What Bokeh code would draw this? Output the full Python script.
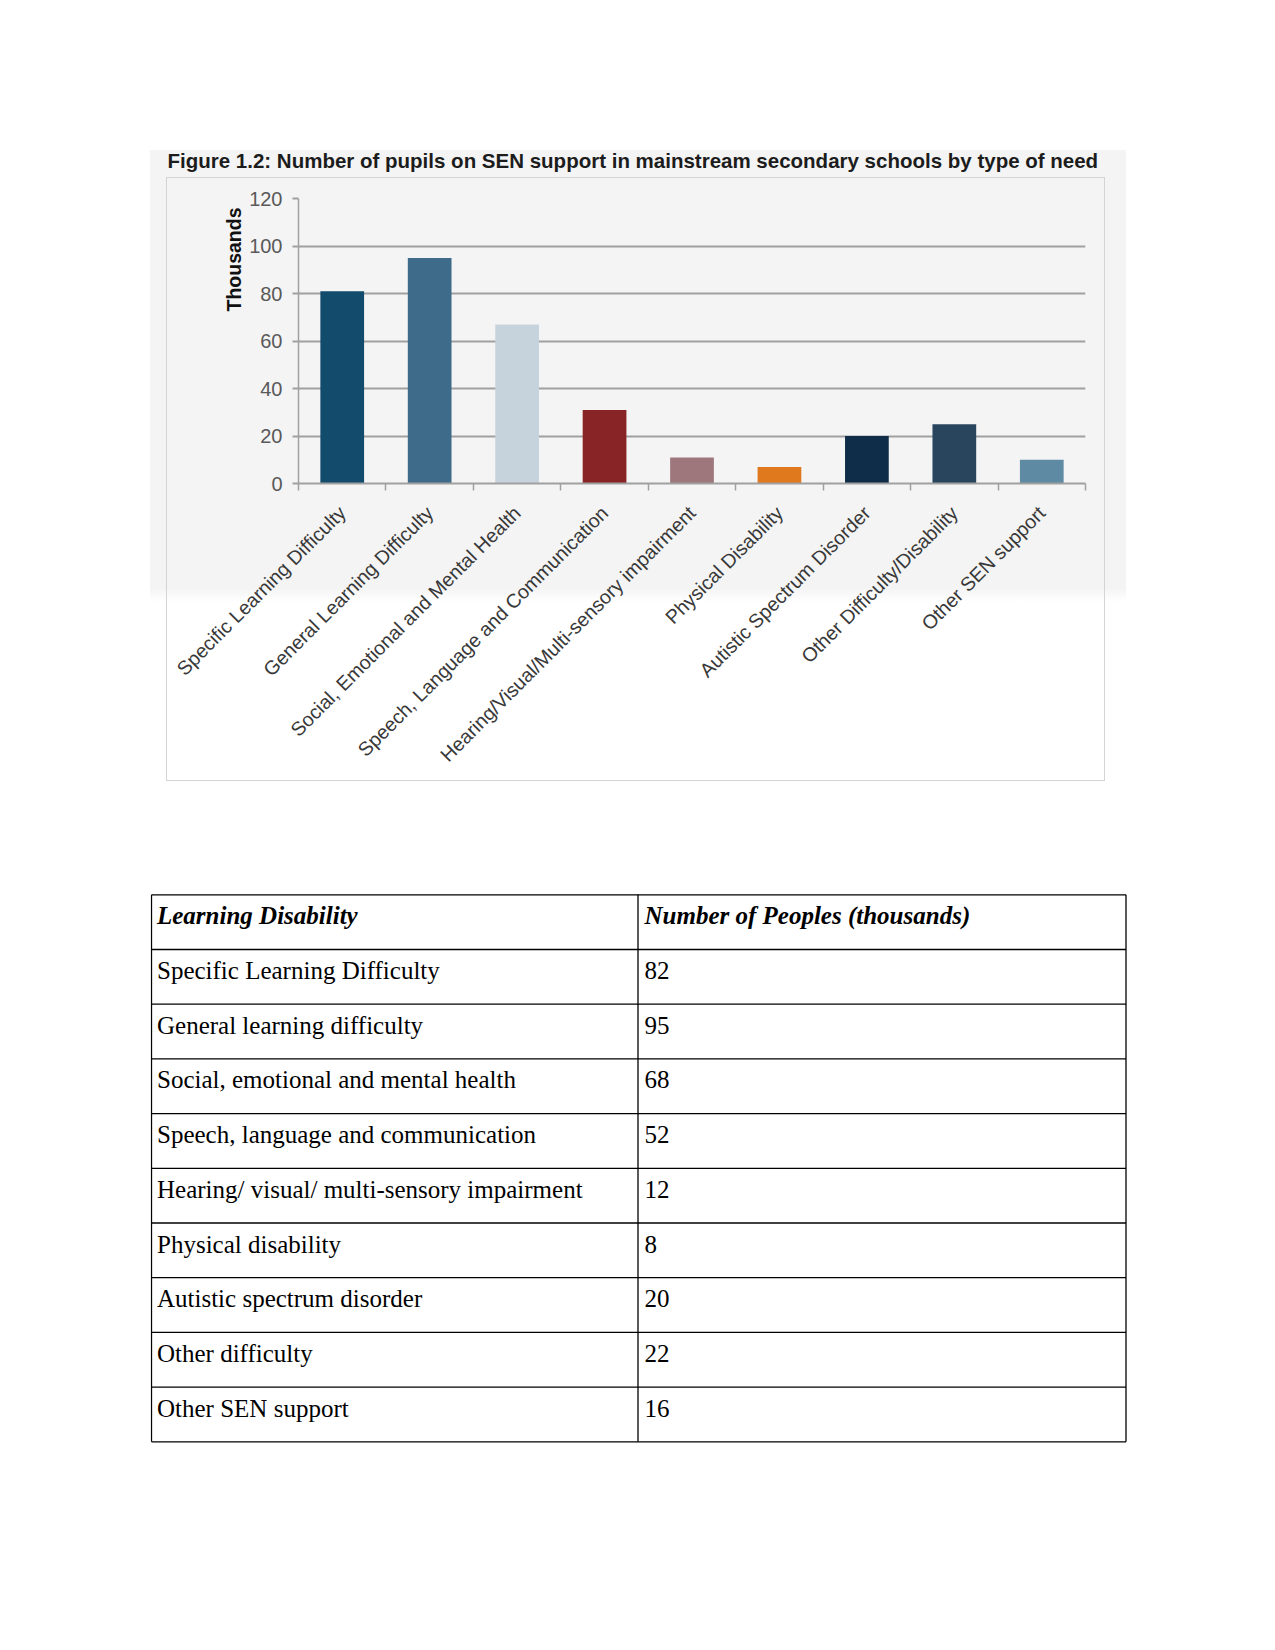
import math
from bokeh.plotting import figure
from bokeh.models import Range1d, FixedTicker, Title, Spacer, ColumnDataSource
from bokeh.layouts import column, row
from bokeh.embed import file_html
from bokeh.resources import INLINE
from bokeh.core.properties import value

# ---------------- data ----------------
title_text = "Figure 1.2: Number of pupils on SEN support in mainstream secondary schools by type of need"
y_axis_title = "Thousands"
categories = [
    "Specific Learning Difficulty",
    "General Learning Difficulty",
    "Social, Emotional and Mental Health",
    "Speech, Language and Communication",
    "Hearing/Visual/Multi-sensory impairment",
    "Physical Disability",
    "Autistic Spectrum Disorder",
    "Other Difficulty/Disability",
    "Other SEN support",
]
pupils_thousands = [81, 95, 67, 31, 11, 7, 20, 25, 10]
bar_colors = ["#134b6c", "#3e6b8a", "#c7d3dc", "#882326", "#9d777b",
              "#e0781e", "#0f2d48", "#29455e", "#5f8aa3"]
y_ticks = [0, 20, 40, 60, 80, 100, 120]

table_headers = ["Learning Disability", "Number of Peoples (thousands)"]
table_labels = [
    "Specific Learning Difficulty",
    "General learning difficulty",
    "Social, emotional and mental health",
    "Speech, language and communication",
    "Hearing/ visual/ multi-sensory impairment",
    "Physical disability",
    "Autistic spectrum disorder",
    "Other difficulty",
    "Other SEN support",
]
table_values = [82, 95, 68, 52, 12, 8, 20, 22, 16]

AX = "#a0a0a0"

# ---------------- title strip (on the grey picture background) ----------------
TTW, TTH = 976, 27
tt = figure(width=TTW, height=TTH, x_range=Range1d(0, TTW), y_range=Range1d(TTH, 0),
            output_backend="svg", toolbar_location=None, min_border=0,
            x_axis_location=None, y_axis_location=None)
tt.grid.visible = False
tt.outline_line_color = None
tt.background_fill_color = None
tt.border_fill_color = None
tt.text(x=[17], y=[9.5], text=[title_text], text_font=value("Liberation Sans"),
        text_font_size="20.5px", text_font_style="bold", text_color="#1c1c1c",
        text_baseline="alphabetic")

# ---------------- chart ----------------
CW, CH = 939, 604
p = figure(width=CW, height=CH, x_range=Range1d(0, len(categories)), y_range=Range1d(0, 120),
           output_backend="svg", toolbar_location=None,
           min_border_left=132, min_border_right=20, min_border_top=21, min_border_bottom=298)
p.styles = {"outline": "1.5px solid #d4d4d4", "outline-offset": "-1px"}

xs = [i + 0.5 for i in range(len(categories))]
src = ColumnDataSource(dict(x=xs, top=pupils_thousands, color=bar_colors, cat=categories))
p.vbar(x="x", top="top", bottom=0, width=0.5, fill_color="color", line_color=None, source=src)

p.background_fill_color = None
p.border_fill_color = None
p.outline_line_color = None

p.xgrid.grid_line_color = None
p.ygrid.grid_line_color = "#a0a0a0"
p.ygrid.grid_line_width = 2

xa = p.xaxis[0]
xa.ticker = FixedTicker(ticks=xs, minor_ticks=list(range(len(categories) + 1)))
xa.major_label_overrides = {x: c for x, c in zip(xs, categories)}
xa.major_label_orientation = math.pi / 4
xa.major_tick_out = 0
xa.major_tick_in = 0
xa.minor_tick_out = 7
xa.minor_tick_in = 0
xa.minor_tick_line_color = AX
xa.minor_tick_line_width = 1.5
xa.axis_line_color = AX
xa.axis_line_width = 2
xa.major_label_text_font = "Liberation Sans"
xa.major_label_text_font_size = "19.6px"
xa.major_label_text_color = "#383838"
xa.major_label_standoff = 19

ya = p.yaxis[0]
ya.ticker = FixedTicker(ticks=y_ticks)
ya.minor_tick_line_color = None
ya.major_tick_out = 6
ya.major_tick_in = 0
ya.major_tick_line_color = AX
ya.major_tick_line_width = 2
ya.axis_line_color = AX
ya.axis_line_width = 1.5
ya.major_label_standoff = 10
ya.major_label_text_font = "Liberation Sans"
ya.major_label_text_font_size = "20px"
ya.major_label_text_color = "#595959"

p.add_layout(Title(text=y_axis_title, align="right", offset=9, standoff=3,
                   text_font="Liberation Sans", text_font_size="19.5px",
                   text_font_style="bold", text_color="#111111"), "left")

chart_block = column(
    tt,
    row(Spacer(width=16), p, Spacer(width=21)),
    Spacer(height=19),
    styles={"background": "linear-gradient(to bottom, #f4f4f4 0px, #f4f4f4 438px, #ffffff 452px, #ffffff 100%)"},
)

# ---------------- table ----------------
TW, TH = 977, 550
t = figure(width=TW, height=TH, x_range=Range1d(0, TW), y_range=Range1d(TH, 0),
           output_backend="svg", toolbar_location=None, min_border=0,
           x_axis_location=None, y_axis_location=None)
t.grid.visible = False
t.outline_line_color = None
t.background_fill_color = "white"
t.border_fill_color = "white"

row_h = 54.7
top0 = 1.3
n_rows = len(table_labels) + 1
col_x = [1, 487.5, 975.5]
h_y = [top0 + i * row_h for i in range(n_rows + 1)]
t.segment(x0=[col_x[0]] * len(h_y), x1=[col_x[-1]] * len(h_y), y0=h_y, y1=h_y,
          line_color="black", line_width=1.3)
t.segment(x0=col_x, x1=col_x, y0=[h_y[0]] * 3, y1=[h_y[-1]] * 3,
          line_color="black", line_width=1.3)

text_dx = [6.5, 494]
base = 21
t.text(x=text_dx, y=[top0 + base] * 2, text=table_headers,
       text_font=value("Liberation Serif"), text_font_size="25px",
       text_font_style="bold italic", text_baseline="alphabetic", text_color="black")
ry = [top0 + (i + 1) * row_h + base for i in range(len(table_labels))]
t.text(x=[text_dx[0]] * len(table_labels), y=ry, text=table_labels,
       text_font=value("Liberation Serif"), text_font_size="25px",
       text_baseline="alphabetic", text_color="black")
t.text(x=[text_dx[1]] * len(table_values), y=ry, text=[str(v) for v in table_values],
       text_font=value("Liberation Serif"), text_font_size="25px",
       text_baseline="alphabetic", text_color="black")

page = column(Spacer(height=150),
              row(Spacer(width=150), chart_block),
              Spacer(height=93),
              row(Spacer(width=150), t))

open("out.html", "w").write(file_html(page, INLINE))
